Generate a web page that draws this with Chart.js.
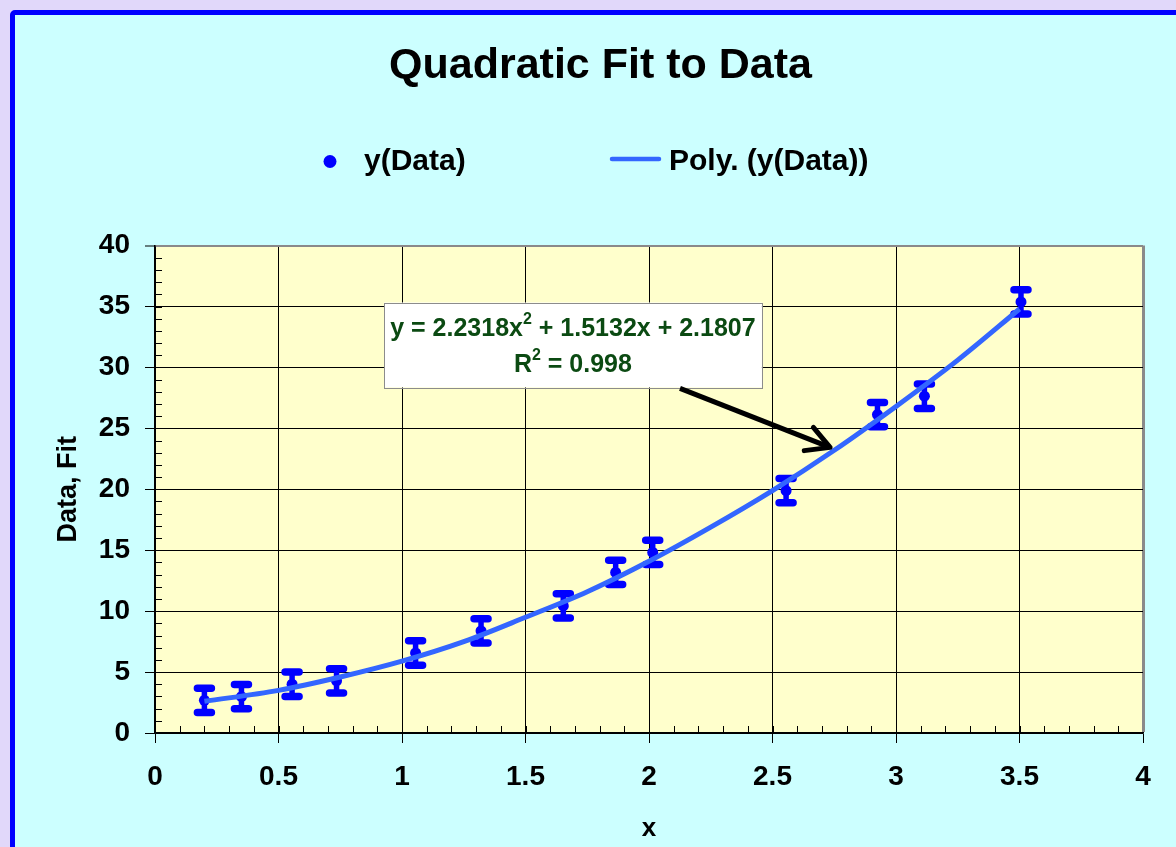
<!DOCTYPE html>
<html>
<head>
<meta charset="utf-8">
<title>Quadratic Fit to Data</title>
<script src="https://cdn.jsdelivr.net/npm/chart.js@4.4.0/dist/chart.umd.min.js"></script>
<style>
  html, body { margin: 0; padding: 0; width: 1176px; height: 847px; overflow: hidden; background: #e1d8fa; }
  #panel { position: absolute; left: 10px; top: 10px; width: 1200px; height: 900px; background: #ccffff; border: 5px solid #0000ff; border-radius: 5px; }
  #c { position: absolute; left: 0; top: 0; }
</style>
</head>
<body>
<div id="panel"><canvas id="c" width="1171" height="832"></canvas></div>
<script>
// data
var xData = [0.20, 0.35, 0.555, 0.735, 1.055, 1.32, 1.653, 1.865, 2.015, 2.555, 2.925, 3.115, 3.506];
var yData = [2.68, 2.98, 4.00, 4.28, 6.57, 8.38, 10.43, 13.18, 14.82, 19.89, 26.13, 27.64, 35.38];
var yErr  = [1, 1, 1, 1, 1, 1, 1, 1, 1, 1, 1, 1, 1];

// trendline (Poly.)
var fitX = [0.2, 0.5, 0.75, 1, 1.25, 1.5, 1.75, 2, 2.25, 2.5, 2.75, 3, 3.25, 3.5];
var fitY = [2.6, 3.5, 4.6, 5.9, 7.5, 9.5, 11.6, 14.1, 16.9, 19.9, 23.2, 26.8, 30.6, 34.8];

var xTicks = [0, 0.5, 1, 1.5, 2, 2.5, 3, 3.5, 4];
var xTickLabels = ['0', '0.5', '1', '1.5', '2', '2.5', '3', '3.5', '4'];
var yTicks = [0, 5, 10, 15, 20, 25, 30, 35, 40];

var eqLine1 = ['y = 2.2318x', '2', ' + 1.5132x + 2.1807'];
var eqLine2 = ['R', '2', ' = 0.998'];

var FONT = 'Arial, "Liberation Sans", Helvetica, sans-serif';

var pts = xData.map(function (x, i) { return {x: x, y: yData[i]}; });
var fit = fitX.map(function (x, i) { return {x: x, y: fitY[i]}; });

// plot background
var plotBg = {
  id: 'plotBg',
  beforeDraw: function (chart) {
    var a = chart.chartArea, ctx = chart.ctx;
    ctx.save();
    ctx.fillStyle = '#ffffcc';
    ctx.fillRect(a.left, a.top, a.right - a.left, a.bottom - a.top);
    ctx.restore();
  }
};

// minor ticks + error bars
var errBars = {
  id: 'errBars',
  beforeDatasetsDraw: function (chart) {
    var ctx = chart.ctx, xs = chart.scales.x, ys = chart.scales.y, a = chart.chartArea;
    ctx.save();
    ctx.strokeStyle = '#000';
    ctx.lineWidth = 1;
    ctx.beginPath();
    for (var v = 1; v < 40; v++) {
      var py = Math.round(ys.getPixelForValue(v)) + 0.5;
      ctx.moveTo(a.left, py); ctx.lineTo(a.left + 7, py);
    }
    for (var k = 1; k < 40; k++) {
      var px = Math.round(xs.getPixelForValue(k / 10)) + 0.5;
      ctx.moveTo(px, a.bottom); ctx.lineTo(px, a.bottom - 7);
    }
    ctx.stroke();

    ctx.strokeStyle = '#0000ff';
    ctx.lineCap = 'round';
    for (var i = 0; i < xData.length; i++) {
      var x = xs.getPixelForValue(xData[i]);
      var t = ys.getPixelForValue(yData[i] + yErr[i]);
      var b = ys.getPixelForValue(yData[i] - yErr[i]);
      ctx.lineWidth = 5.5;
      ctx.beginPath(); ctx.moveTo(x, t); ctx.lineTo(x, b); ctx.stroke();
      ctx.lineWidth = 7.5;
      ctx.beginPath();
      ctx.moveTo(x - 7, t); ctx.lineTo(x + 7, t);
      ctx.moveTo(x - 7, b); ctx.lineTo(x + 7, b);
      ctx.stroke();
    }
    ctx.restore();
  }
};

function drawParts(ctx, parts, cx, cy, size) {
  var supSize = Math.round(size * 0.62);
  var widths = parts.map(function (p, i) {
    ctx.font = 'bold ' + (i === 1 ? supSize : size) + 'px ' + FONT;
    return ctx.measureText(p).width;
  });
  var total = widths.reduce(function (s, w) { return s + w; }, 0);
  var x = cx - total / 2;
  ctx.textBaseline = 'middle';
  ctx.textAlign = 'left';
  parts.forEach(function (p, i) {
    ctx.font = 'bold ' + (i === 1 ? supSize : size) + 'px ' + FONT;
    ctx.fillText(p, x, i === 1 ? cy - size * 0.38 : cy);
    x += widths[i];
  });
}

// legend, equation box and arrow
var extras = {
  id: 'extras',
  afterDraw: function (chart) {
    var ctx = chart.ctx, xs = chart.scales.x, ys = chart.scales.y;
    var ds = chart.data.datasets;
    ctx.save();

    // legend
    ctx.fillStyle = '#0000ff';
    ctx.beginPath(); ctx.arc(315, 146.5, 6.5, 0, Math.PI * 2); ctx.fill();
    ctx.strokeStyle = '#3366ff';
    ctx.lineWidth = 4.5;
    ctx.lineCap = 'round';
    ctx.beginPath(); ctx.moveTo(597, 144); ctx.lineTo(644, 144); ctx.stroke();
    ctx.fillStyle = '#000';
    ctx.font = 'bold 30px ' + FONT;
    ctx.textBaseline = 'middle';
    ctx.textAlign = 'left';
    ctx.fillText(ds[1].label, 349, 147);
    ctx.fillText(ds[0].label, 654, 147);

    // equation box
    var bl = xs.getPixelForValue(0.927), br = xs.getPixelForValue(2.457);
    var bt = ys.getPixelForValue(35.33), bb = ys.getPixelForValue(28.36);
    ctx.fillStyle = '#ffffff';
    ctx.fillRect(bl, bt, br - bl, bb - bt);
    ctx.strokeStyle = '#8c8c8c';
    ctx.lineWidth = 1;
    ctx.strokeRect(Math.round(bl) + 0.5, Math.round(bt) + 0.5, Math.round(br - bl), Math.round(bb - bt));
    ctx.fillStyle = '#0b4a12';
    var cx = (bl + br) / 2;
    drawParts(ctx, eqLine1, cx, bt + 27, 25);
    drawParts(ctx, eqLine2, cx, bt + 63, 25);

    // arrow
    var x0 = xs.getPixelForValue(2.1255), y0 = ys.getPixelForValue(28.28);
    var x1 = xs.getPixelForValue(2.733), y1 = ys.getPixelForValue(23.44);
    var ang = Math.atan2(y1 - y0, x1 - x0);
    ctx.strokeStyle = '#000';
    ctx.lineWidth = 5;
    ctx.lineCap = 'butt';
    ctx.beginPath(); ctx.moveTo(x0, y0); ctx.lineTo(x1, y1); ctx.stroke();
    ctx.lineCap = 'round';
    ctx.lineJoin = 'round';
    ctx.beginPath();
    ctx.moveTo(x1 - 26 * Math.cos(ang - 0.5), y1 - 26 * Math.sin(ang - 0.5));
    ctx.lineTo(x1, y1);
    ctx.lineTo(x1 - 26 * Math.cos(ang + 0.5), y1 - 26 * Math.sin(ang + 0.5));
    ctx.stroke();
    ctx.restore();
  }
};

new Chart(document.getElementById('c'), {
  type: 'scatter',
  data: {
    datasets: [
      {
        label: 'Poly. (y(Data))',
        type: 'line',
        data: fit,
        showLine: true,
        borderColor: '#3366ff',
        borderWidth: 5,
        pointRadius: 0,
        cubicInterpolationMode: 'monotone',
        order: 0
      },
      {
        label: 'y(Data)',
        data: pts,
        pointRadius: 5.5,
        pointBackgroundColor: '#0000ff',
        pointBorderColor: '#0000ff',
        borderWidth: 0,
        order: 1
      }
    ]
  },
  options: {
    responsive: false,
    animation: false,
    events: [],
    layout: { padding: { left: 43, right: 43, top: 0, bottom: 0 } },
    plugins: {
      legend: { display: false },
      tooltip: { enabled: false },
      title: {
        display: true,
        text: 'Quadratic Fit to Data',
        color: '#000',
        font: { family: FONT, size: 43, weight: 'bold' },
        padding: { top: 25, bottom: 154 }
      }
    },
    scales: {
      x: {
        type: 'linear',
        min: 0, max: 4,
        afterBuildTicks: function (s) { s.ticks = xTicks.map(function (v) { return {value: v}; }); },
        afterFit: function (s) { s.height = 114; },
        ticks: {
          color: '#000', padding: 17, maxRotation: 0, autoSkip: false,
          font: { family: FONT, size: 28, weight: 'bold' },
          callback: function (v) { var i = xTicks.indexOf(v); return i >= 0 ? xTickLabels[i] : ''; }
        },
        grid: {
          color: function (c) { return c.tick && c.tick.value === 4 ? '#8a8a8a' : '#000'; },
          lineWidth: function (c) { return c.tick && c.tick.value === 4 ? 3 : 1; },
          tickColor: '#000', tickWidth: 1, tickLength: 10
        },
        border: { color: '#000', width: 1.5 },
        title: { display: true, text: 'x', color: '#000', padding: { top: 0, bottom: 3 },
                 font: { family: FONT, size: 26, weight: 'bold' } }
      },
      y: {
        type: 'linear',
        min: 0, max: 40,
        afterBuildTicks: function (s) { s.ticks = yTicks.map(function (v) { return {value: v}; }); },
        afterFit: function (s) { s.width = 97; },
        ticks: { color: '#000', padding: 15,
                 font: { family: FONT, size: 28, weight: 'bold' } },
        grid: {
          color: function (c) { return c.tick && c.tick.value === 40 ? '#8a8a8a' : '#000'; },
          lineWidth: function (c) { return c.tick && c.tick.value === 40 ? 2 : 1; },
          tickColor: '#000', tickWidth: 1, tickLength: 10
        },
        border: { color: '#000', width: 1.5 },
        title: { display: true, text: 'Data, Fit', color: '#000', padding: { top: 0, bottom: 0 },
                 font: { family: FONT, size: 27, weight: 'bold', lineHeight: 0.8 } }
      }
    }
  },
  plugins: [plotBg, errBars, extras]
});
</script>
</body>
</html>
